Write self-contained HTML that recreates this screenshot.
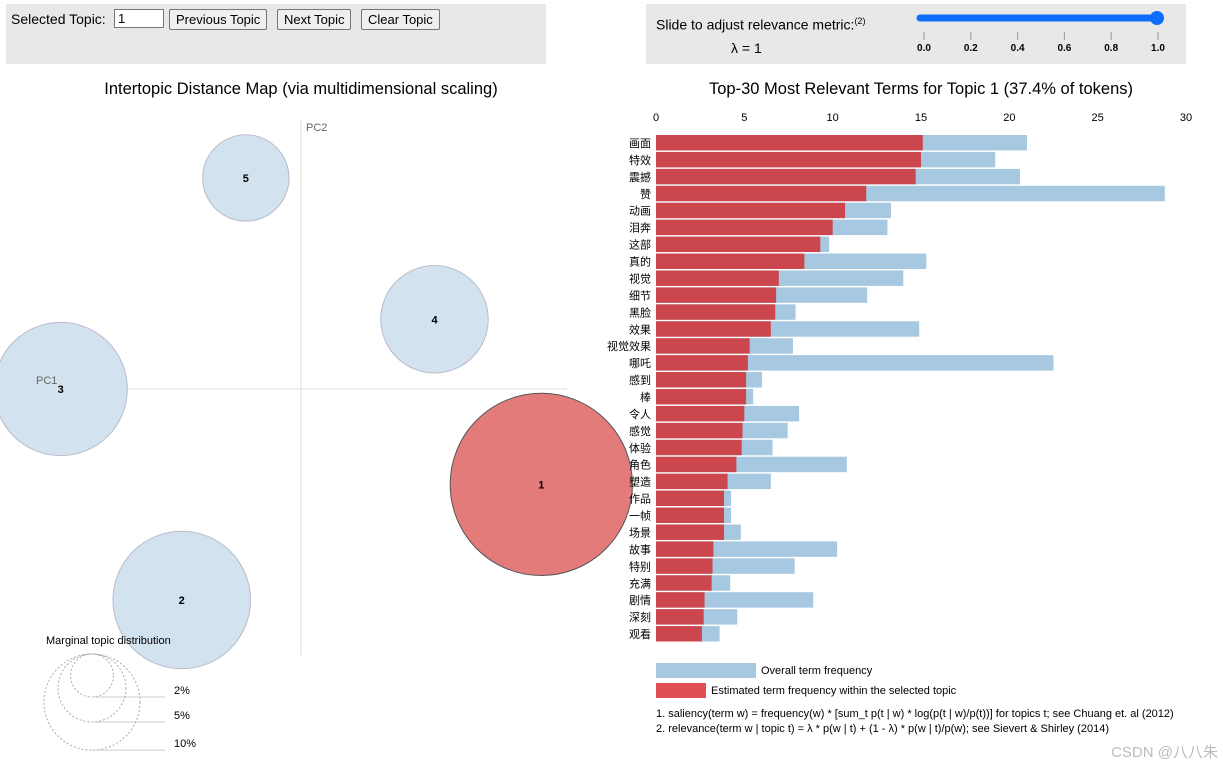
<!DOCTYPE html>
<html><head><meta charset="utf-8">
<style>
body{margin:0;background:#fff;font-family:"Liberation Sans","Noto Sans CJK SC",sans-serif;}
#wrap{position:relative;width:1223px;height:769px;overflow:hidden}
.box{position:absolute;background:#e8e8e8}
button{font-family:"Liberation Sans",sans-serif;font-size:13px;padding:1px 6px;height:21px;background:#efefef;border:1px solid #767676;border-radius:2px}
</style></head><body>
<div id="wrap">
<div class="box" style="left:6px;top:4px;width:540px;height:60px">
 <span style="position:absolute;left:5px;top:7px;font-size:14px">Selected Topic:</span>
 <input style="position:absolute;left:108px;top:5px;width:42px;height:17px;font-size:13px;padding:0 3px;border:1px solid #767676" value="1">
 <button style="position:absolute;left:163px;top:5px">Previous Topic</button>
 <button style="position:absolute;left:271px;top:5px">Next Topic</button>
 <button style="position:absolute;left:355px;top:5px">Clear Topic</button>
</div>
<div class="box" style="left:646px;top:4px;width:540px;height:60px">
 <span style="position:absolute;left:10px;top:12px;font-size:14px">Slide to adjust relevance metric:<sup style="font-size:9px">(2)</sup></span>
 <span style="position:absolute;left:85px;top:36px;font-size:14px">λ = 1</span>
</div>
<svg width="1223" height="769" style="position:absolute;left:0;top:0" id="svg" font-family="Liberation Sans, Noto Sans CJK SC, sans-serif">
 <g>
  <line x1="920" y1="18" x2="1157" y2="18" stroke="#0d6efd" stroke-width="7" stroke-linecap="round"/>
  <circle cx="1157" cy="18" r="7" fill="#0d6efd"/>
 </g>
 <g id="sliderticks"></g>
 <text x="301" y="94" text-anchor="middle" font-size="16.5">Intertopic Distance Map (via multidimensional scaling)</text>
 <text x="921" y="94" text-anchor="middle" font-size="16.5">Top-30 Most Relevant Terms for Topic 1 (37.4% of tokens)</text>
 <line x1="301" y1="120" x2="301" y2="655" stroke="#ddd"/>
 <line x1="5" y1="389" x2="567" y2="389" stroke="#ddd"/>
 <g id="circles"></g>
 <text x="306" y="131" font-size="11" fill="#666">PC2</text>
 <text x="36" y="384" font-size="11" fill="#666">PC1</text>
 <text x="46" y="644" font-size="11">Marginal topic distribution</text>
 <g id="marg"></g>
 <g id="bars"></g>
 <rect x="656" y="663" width="100" height="15" fill="#a6c8e0"/>
 <text x="761" y="674" font-size="11">Overall term frequency</text>
 <rect x="656" y="683" width="50" height="15" fill="#dd4f52"/>
 <text x="711" y="694" font-size="11">Estimated term frequency within the selected topic</text>
 <text x="656" y="717" font-size="11">1. saliency(term w) = frequency(w) * [sum_t p(t | w) * log(p(t | w)/p(t))] for topics t; see Chuang et. al (2012)</text>
 <text x="656" y="732" font-size="11">2. relevance(term w | topic t) = λ * p(w | t) + (1 - λ) * p(w | t)/p(w); see Sievert &amp; Shirley (2014)</text>
 <text x="1218" y="757" text-anchor="end" font-size="15" fill="#bbb">CSDN @八八朱</text>
</svg>
</div>
<script>
const terms=["画面","特效","震撼","赞","动画","泪奔","这部","真的","视觉","细节","黑脸","效果","视觉效果","哪吒","感到","棒","令人","感觉","体验","角色","塑造","作品","一帧","场景","故事","特别","充满","剧情","深刻","观看"];
const topicFreq=[15.1,15.0,14.7,11.9,10.7,10.0,9.3,8.4,6.95,6.8,6.75,6.5,5.3,5.2,5.1,5.1,5.0,4.9,4.85,4.55,4.05,3.85,3.85,3.85,3.25,3.2,3.15,2.75,2.7,2.6];
const totalFreq=[21.0,19.2,20.6,28.8,13.3,13.1,9.8,15.3,14.0,11.95,7.9,14.9,7.75,22.5,6.0,5.5,8.1,7.45,6.6,10.8,6.5,4.25,4.25,4.8,10.25,7.85,4.2,8.9,4.6,3.6];
const xTicks=[0,5,10,15,20,25,30];
const topicIds=[1,2,3,4,5];
const topicPC1=[0.135,-0.067,-0.135,0.075,-0.031];
const topicPC2=[-0.052,-0.115,0,0.038,0.115];
const topicSize=[37.4,21.3,20,13,8.4];
const sliderTicks=["0.0","0.2","0.4","0.6","0.8","1.0"];
const margPct=[2,5,10];
const margLabels=["2%","5%","10%"];
const NS="http://www.w3.org/2000/svg";
function mk(t,a,p){const e=document.createElementNS(NS,t);for(const k in a)e.setAttribute(k,a[k]);p.appendChild(e);return e;}
const xs=v=>656+v*530/30;
const bars=document.getElementById('bars');
xTicks.forEach(t=>{const e=mk('text',{x:xs(t),y:121,'text-anchor':'middle','font-size':11},bars);e.textContent=t;

});
const step=(643-135)/30;
terms.forEach((t,i)=>{const y=135+i*step;
 const b=mk('rect',{x:656,y:y,width:xs(totalFreq[i])-656,height:step-1.5,fill:'#a6c8e0'},bars);
 
 
 const r=mk('rect',{x:656,y:y,width:xs(topicFreq[i])-656,height:step-1.5,fill:'#cc474d'},bars);
 
 
 const l=mk('text',{x:651,y:y+12,'text-anchor':'end','font-size':11},bars);l.textContent=t;
 
 
});
const cx=v=>301+v*1780, cy=v=>389-v*1835, rr=p=>Math.sqrt(p)*14.9;
const cg=document.getElementById('circles');
topicIds.forEach((id,i)=>{const sel=i===0;
 const c=mk('circle',{cx:cx(topicPC1[i]),cy:cy(topicPC2[i]),r:rr(topicSize[i]),fill:sel?'#e47b7b':'#d2e2ee',stroke:sel?'#555':'#bbc','stroke-width':1},cg);
 
 
 const t=mk('text',{x:cx(topicPC1[i]),y:cy(topicPC2[i])+4,'text-anchor':'middle','font-size':11,'font-weight':'bold'},cg);t.textContent=id;
 
 
});
const mg=document.getElementById('marg');
margPct.forEach((p,i)=>{const r=rr(p)*1.02;
 const c=mk('circle',{cx:92,cy:654+r,r:r,fill:'none',stroke:'#aaa','stroke-dasharray':'2,2'},mg);
 
 
 mk('line',{x1:92,y1:654+2*r,x2:165,y2:654+2*r,stroke:'#ccc'},mg);
 const t=mk('text',{x:174,y:654+2*r-3,'font-size':11},mg);t.textContent=margLabels[i];
 
 
});
const st=document.getElementById('sliderticks');
sliderTicks.forEach((s,i)=>{const x=924+i*46.8;
 mk('line',{x1:x,y1:32,x2:x,y2:40,stroke:'#999'},st);
 const t=mk('text',{x:x,y:51,'text-anchor':'middle','font-size':10,'font-weight':'bold'},st);t.textContent=s;
 
 
});
</script>
</body></html>
